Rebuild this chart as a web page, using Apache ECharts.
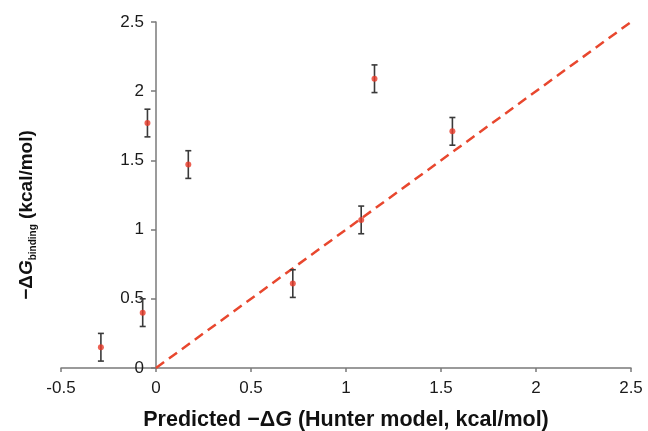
<!DOCTYPE html>
<html>
<head>
<meta charset="utf-8">
<script src="https://cdn.jsdelivr.net/npm/echarts@6/dist/echarts.min.js"></script>
<style>
html,body{margin:0;padding:0;background:#fff;}
#chart{width:648px;height:431px;}
</style>
</head>
<body>
<div id="chart"></div>
<script>
// Data
const predicted = [-0.29, -0.07, -0.045, 0.17, 0.72, 1.08, 1.15, 1.56];
const measured  = [0.15, 0.40, 1.77, 1.47, 0.61, 1.07, 2.09, 1.71];
const errors    = [0.10, 0.10, 0.10, 0.10, 0.10, 0.10, 0.10, 0.10];
const identityLine = [[0, 0], [2.5, 2.5]];
const xTicks = [-0.5, 0, 0.5, 1, 1.5, 2, 2.5];
const yTicks = [0, 0.5, 1, 1.5, 2, 2.5];

const points = predicted.map((x, i) => [x, measured[i]]);
const errData = predicted.map((x, i) => [x, measured[i] - errors[i], measured[i] + errors[i]]);

const chart = echarts.init(document.getElementById('chart'), null, {renderer: 'canvas'});
const font = '"Liberation Sans", Arial, Helvetica, sans-serif';

const option = {
  animation: false,
  backgroundColor: '#fff',
  grid: {left: 61, right: 17, top: 22, bottom: 63, containLabel: false, outerBoundsMode: 'none'},
  xAxis: {
    type: 'value',
    min: xTicks[0], max: xTicks[xTicks.length - 1], interval: 0.5,
    axisLine: {show: true, onZero: true, lineStyle: {color: '#7a7a7a', width: 1.5}},
    axisTick: {show: true, length: 4, inside: false, lineStyle: {color: '#7a7a7a', width: 1.5}},
    splitLine: {show: false},
    axisLabel: {color: '#1a1a1a', fontSize: 17, fontFamily: font, margin: 12},
    name: '{n|Predicted \u2212\u0394}{i|G}{n| (Hunter model, kcal/mol)}',
    nameLocation: 'middle', nameGap: 41,
    nameTextStyle: {
      rich: {
        n: {fontSize: 21.5, fontWeight: 'bold', fontFamily: font, color: '#111'},
        i: {fontSize: 21.5, fontWeight: 'bold', fontStyle: 'italic', fontFamily: font, color: '#111'}
      }
    }
  },
  yAxis: {
    type: 'value',
    min: yTicks[0], max: yTicks[yTicks.length - 1], interval: 0.5,
    offset: 0,
    axisLine: {show: true, onZero: false, lineStyle: {color: '#7a7a7a', width: 1.5}},
    axisTick: {show: true, length: 5, inside: false, lineStyle: {color: '#7a7a7a', width: 1.5}},
    splitLine: {show: false},
    axisLabel: {color: '#1a1a1a', fontSize: 17, fontFamily: font, margin: 12},
    name: '{n|\u2212\u0394}{i|G}{s|binding}{n| (kcal/mol)}',
    nameLocation: 'middle', nameGap: 118, nameRotate: 90,
    nameTextStyle: {
      padding: [0, 40, 0, 0],
      rich: {
        n: {fontSize: 19, fontWeight: 'bold', fontFamily: font, color: '#111', lineHeight: 22},
        i: {fontSize: 19, fontWeight: 'bold', fontStyle: 'italic', fontFamily: font, color: '#111', lineHeight: 22},
        s: {fontSize: 10, fontWeight: 'bold', fontFamily: font, color: '#111', verticalAlign: 'bottom', lineHeight: 22}
      }
    }
  },
  series: [
    {
      type: 'line',
      data: identityLine,
      symbol: 'none',
      lineStyle: {color: '#e8472e', width: 2.5, type: [10, 6]},
      z: 1
    },
    {
      type: 'custom',
      data: errData,
      renderItem: function (params, api) {
        const x = api.value(0);
        const lo = api.coord([x, api.value(1)]);
        const hi = api.coord([x, api.value(2)]);
        const cap = 3;
        const style = {stroke: '#3a3a3a', lineWidth: 1.6};
        return {
          type: 'group',
          children: [
            {type: 'line', shape: {x1: lo[0], y1: lo[1], x2: hi[0], y2: hi[1]}, style: style},
            {type: 'line', shape: {x1: lo[0] - cap, y1: lo[1], x2: lo[0] + cap, y2: lo[1]}, style: style},
            {type: 'line', shape: {x1: hi[0] - cap, y1: hi[1], x2: hi[0] + cap, y2: hi[1]}, style: style}
          ]
        };
      },
      z: 2
    },
    {
      type: 'scatter',
      data: points,
      symbol: 'circle',
      symbolSize: 6,
      itemStyle: {color: '#e83a28'},
      z: 3
    }
  ]
};
chart.setOption(option);
// Move the y axis onto x = 0 (axis crossing), using the library's own scale
const px0 = chart.convertToPixel({xAxisIndex: 0}, 0);
const pxMin = chart.convertToPixel({xAxisIndex: 0}, xTicks[0]);
chart.setOption({yAxis: {offset: -(px0 - pxMin)}});
</script>
</body>
</html>
